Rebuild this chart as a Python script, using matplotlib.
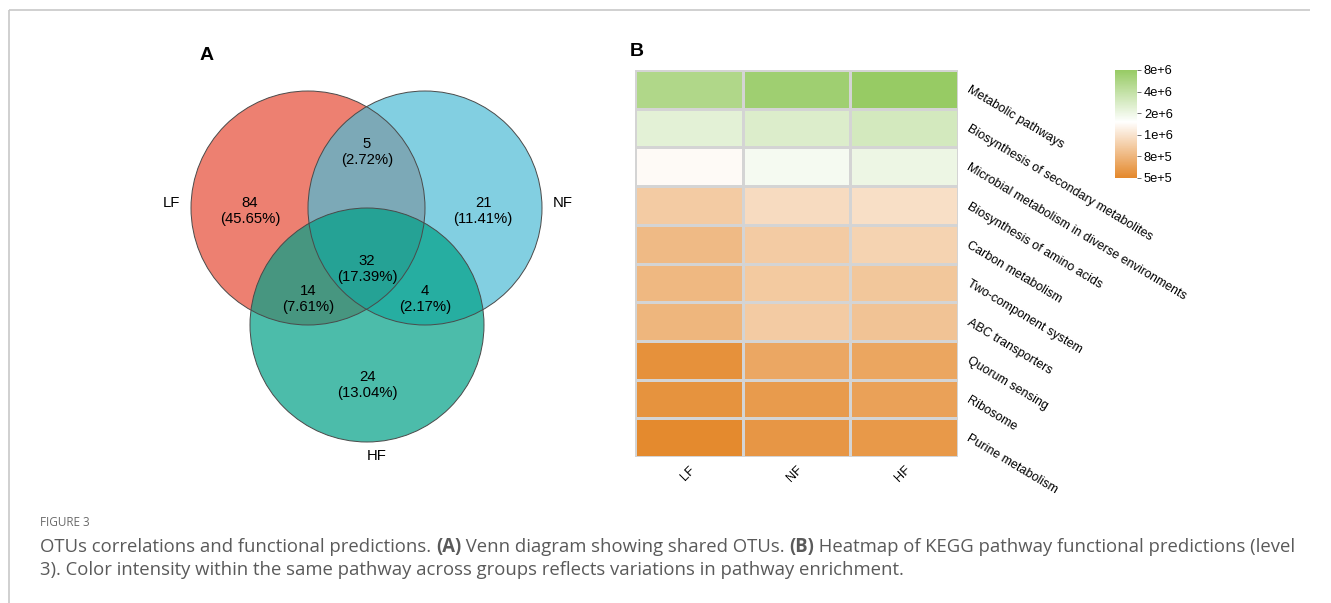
import numpy as np
import matplotlib
matplotlib.use("Agg")
import matplotlib.pyplot as plt
from matplotlib.patches import Circle
from matplotlib.colors import LinearSegmentedColormap, FuncNorm
from matplotlib.transforms import offset_copy

plt.rcParams["font.family"] = ["Liberation Sans", "DejaVu Sans"]

# ---------------- data ----------------
venn_sets = ["LF", "NF", "HF"]
venn_colors = ["#E64B35", "#4DBBD5", "#00A087"]
# exclusive region counts
only_lf, only_nf, only_hf = 84, 21, 24
lf_nf, lf_hf, nf_hf = 5, 14, 4
lf_nf_hf = 32

groups = ["LF", "NF", "HF"]
pathways = [
    "Metabolic pathways",
    "Biosynthesis of secondary metabolites",
    "Microbial metabolism in diverse environments",
    "Biosynthesis of amino acids",
    "Carbon metabolism",
    "Two-component system",
    "ABC transporters",
    "Quorum sensing",
    "Ribosome",
    "Purine metabolism",
]
abundance = np.array([
    [5.4e6, 6.9e6, 8.0e6],
    [2.35e6, 2.67e6, 3.03e6],
    [1.40e6, 1.78e6, 2.03e6],
    [8.9e5, 9.6e5, 9.8e5],
    [8.2e5, 8.9e5, 9.25e5],
    [8.1e5, 8.8e5, 8.7e5],
    [8.0e5, 8.9e5, 8.55e5],
    [5.5e5, 6.95e5, 6.8e5],
    [5.6e5, 6.1e5, 6.5e5],
    [5.1e5, 5.8e5, 6.0e5],
])
legend_breaks = [5e5, 8e5, 1e6, 2e6, 4e6, 8e6]
legend_labels = ["5e+5", "8e+5", "1e+6", "2e+6", "4e+6", "8e+6"]

W, H = 1331, 603
fig = plt.figure(figsize=(W / 100, H / 100), dpi=100)

# full-figure pixel canvas for the Venn diagram, frame and caption
canvas = fig.add_axes([0, 0, 1, 1])
canvas.set_xlim(0, W)
canvas.set_ylim(H, 0)
canvas.axis("off")

# page frame
canvas.plot([9, 1310], [9.5, 9.5], color="#C8C8C8", lw=1.2, solid_capstyle="butt")
canvas.plot([9, 9], [9.5, H], color="#C8C8C8", lw=1.2, solid_capstyle="butt")

# ---------------- Venn diagram ----------------
centers = [(308, 208), (425, 208), (367, 325)]
radius = 117
for (cx, cy), col in zip(centers, venn_colors):
    canvas.add_patch(Circle((cx, cy), radius, facecolor=col, alpha=0.7,
                            edgecolor="none", zorder=2))
for (cx, cy) in centers:
    canvas.add_patch(Circle((cx, cy), radius, facecolor="none",
                            edgecolor="#4A4A4A", lw=0.7, zorder=3))

total = only_lf + only_nf + only_hf + lf_nf + lf_hf + nf_hf + lf_nf_hf
region_counts = [only_lf, lf_nf, only_nf, lf_nf_hf, lf_hf, nf_hf, only_hf]
region_pos = [(250, 211), (367, 152), (483, 211), (367, 269),
              (308, 299), (425, 299), (367, 385)]
for n, (x, y) in zip(region_counts, region_pos):
    canvas.text(x, y, f"{n}\n({100 * n / total:.2f}%)", ha="center",
                va="center", fontsize=10.7, linespacing=1.15, zorder=4)

set_label_pos = [(171, 203), (563, 203), (377, 456)]
for name, (x, y) in zip(venn_sets, set_label_pos):
    canvas.text(x, y, name, ha="center", va="center", fontsize=10.7)

canvas.text(207, 55, "A", ha="center", va="center", fontsize=14, weight="bold")
canvas.text(637, 52, "B", ha="center", va="center", fontsize=14, weight="bold")

# ---------------- heatmap ----------------
cmap = LinearSegmentedColormap.from_list(
    "og", [(0.0, "#E4882B"), (0.52, "#FFFFFF"), (1.0, "#97CB64")])
log_breaks = np.log10(legend_breaks)
pos_breaks = np.linspace(0, 1, len(legend_breaks))


def _fwd(v):
    return np.interp(np.log10(np.clip(v, 1, None)), log_breaks, pos_breaks)


def _inv(p):
    return 10 ** np.interp(p, pos_breaks, log_breaks)


norm = FuncNorm((_fwd, _inv), vmin=legend_breaks[0], vmax=legend_breaks[-1])

hx0, hx1, hy0, hy1 = 635, 958, 70, 457
ax = fig.add_axes([hx0 / W, 1 - hy1 / H, (hx1 - hx0) / W, (hy1 - hy0) / H])
mesh = ax.pcolormesh(abundance, cmap=cmap, norm=norm, edgecolors="#D4D4D4",
                     linewidth=1.0)
ax.set_xlim(0, len(groups))
ax.set_ylim(len(pathways), 0)
for s in ax.spines.values():
    s.set_visible(False)
ax.set_yticks([])
ax.set_xticks(np.arange(len(groups)) + 0.5)
ax.set_xticklabels(groups, rotation=45, ha="right", rotation_mode="anchor",
                   fontsize=9.3)
ax.tick_params(axis="x", length=0, pad=5)

label_tr = offset_copy(ax.transData, fig=fig, x=10, y=0, units="dots")
for i, name in enumerate(pathways):
    ax.text(len(groups), i + 0.5, name, transform=label_tr, rotation=-31,
            rotation_mode="anchor", ha="left", va="center", fontsize=9,
            clip_on=False)

# colour legend
cax = fig.add_axes([1115 / W, 1 - 178 / H, 22 / W, 108 / H])
cb = fig.colorbar(mesh, cax=cax)
cb.outline.set_visible(False)
cb.set_ticks(legend_breaks)
cb.set_ticklabels(legend_labels)
cax.tick_params(length=3, width=0.6, color="#555555", labelsize=9.3, pad=2)
cax.minorticks_off()

# ---------------- caption ----------------
cap_color = "#5A5A5A"
cap_family = ["Open Sans", "DejaVu Sans"]
canvas.text(40, 522, "FIGURE 3", fontsize=8.5, color="#6A6A6A",
            family=cap_family, va="center")

line1 = [("OTUs correlations and functional predictions. ", "normal"),
         ("(A)", "bold"),
         (" Venn diagram showing shared OTUs. ", "normal"),
         ("(B)", "bold"),
         (" Heatmap of KEGG pathway functional predictions (level", "normal")]
line2 = [("3). Color intensity within the same pathway across groups reflects "
          "variations in pathway enrichment.", "normal")]

renderer = fig.canvas.get_renderer()


def run_width(s, weight, size):
    a = canvas.text(0, 0, "|" + s + "|", fontsize=size, weight=weight,
                    family=cap_family)
    b = canvas.text(0, 0, "||", fontsize=size, weight=weight,
                    family=cap_family)
    w = a.get_window_extent(renderer).width - b.get_window_extent(renderer).width
    a.remove()
    b.remove()
    return w


base = 12.0
w1 = sum(run_width(s, wt, base) for s, wt in line1)
cap_size = base * (1250 / w1)


def draw_line(x, y, runs):
    for s, wt in runs:
        canvas.text(x, y, s, fontsize=cap_size, weight=wt, color=cap_color,
                    family=cap_family, va="center", ha="left")
        x += run_width(s, wt, cap_size)


draw_line(40, 547, line1)
draw_line(40, 570, line2)

fig.savefig("out.png", dpi=100)
